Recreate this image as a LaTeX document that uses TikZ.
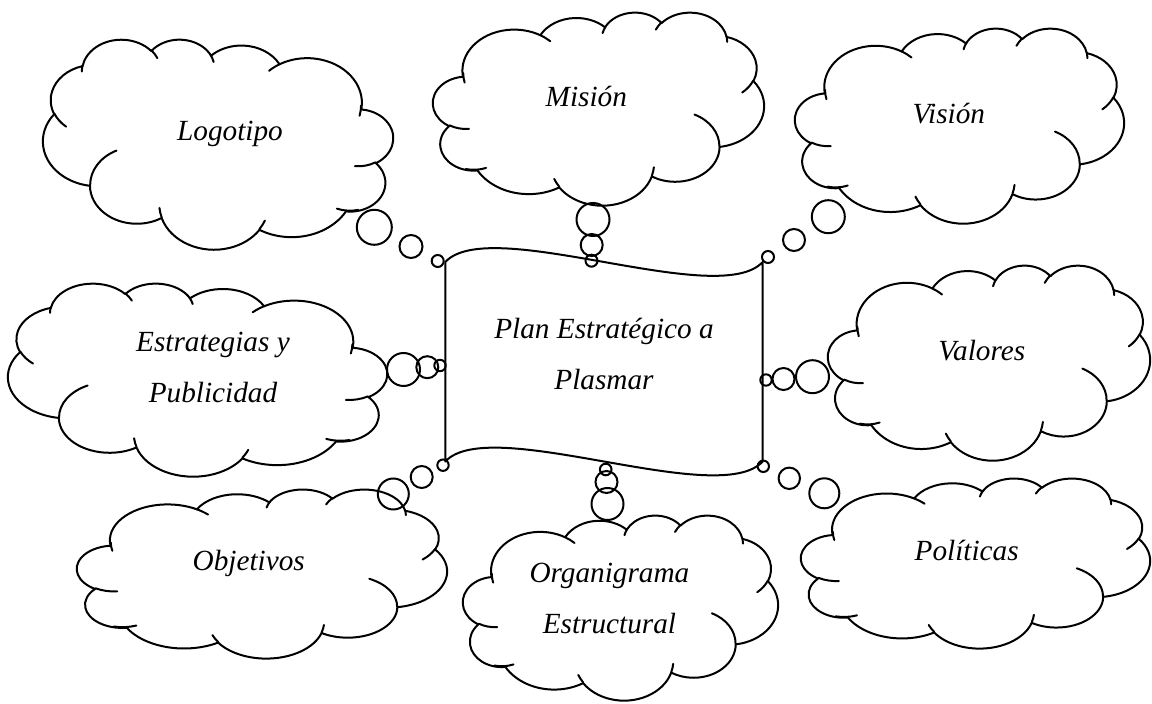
\documentclass[tikz,border=0pt]{standalone}
\usepackage{fontspec}
\setmainfont{Liberation Serif}
\tikzset{
 lobe/.style={draw=black,line width=.8pt,line cap=round,line join=round},
 banner/.style={draw=black,line width=.8pt,line join=round},
 bubble/.style={circle,draw=black,line width=.8pt,inner sep=0pt,minimum size=#1*0.8pt},
 thought/.style={font=\fontsize{11.7}{20.4}\selectfont\itshape,align=center,inner sep=0pt}
}
% visual angle of an ellipse turned into its parametric angle
\newcommand{\visang}[3]{atan2((#2)*sin(#1),(#3)*cos(#1))}
% cloud callout outline in a 43.2 x 43.2 box: left x, top y, width, height (px)
\newcommand{\thoughtcloud}[4]{%
 \begin{scope}[shift={(#1,#2)},xscale=#3/43.2,yscale=#4/43.2]
 \draw[lobe] (3.9,14.37)
  \foreach \ang/\swp/\rx/\ry in {-190.4875/123.7805/6.753/9.190,-144.1024/89.9452/5.333/7.267,
   -145.8079/99.7230/4.365/5.945,-130.9861/117.2417/4.857/6.595,-78.7089/109.0269/5.333/7.273,
   -46.2673/130.2690/6.775/9.220,0.6250/114.0333/5.785/7.867,22.4516/115.1726/6.752/9.215,
   66.2426/75.7110/7.720/10.543,-274.9421/146.7356/4.360/5.918,-246.8285/152.5189/4.345/5.945}{
   arc[start angle={\visang{\ang}{\rx}{\ry}},
    delta angle={\visang{\ang+\swp}{\rx}{\ry}-\visang{\ang}{\rx}{\ry}+360*round((\swp-\visang{\ang+\swp}{\rx}{\ry}+\visang{\ang}{\rx}{\ry})/360)},
    x radius=\rx,y radius=\ry]} -- cycle;
 \foreach \hx/\hy/\ang/\swp/\rx/\ry in {4.693/26.177/86.7420/26.4295/4.345/5.945,
   6.928/34.899/73.6105/26.5270/4.360/5.918,16.478/39.090/137.6242/14.0921/6.752/9.215,
   28.827/34.751/6.4533/15.9984/6.752/9.215,34.129/22.954/-70.2924/70.9174/5.785/7.867,
   41.798/15.354/30.3180/27.7515/5.333/7.273,38.324/5.426/-13.7443/14.8512/4.857/6.595,
   29.078/3.952/-149.1815/18.1959/4.857/6.595,22.141/4.720/-163.4943/17.6871/4.365/5.945,
   14.000/5.192/-66.7070/12.3194/6.753/9.190,4.127/15.789/162.0371/17.6844/6.753/9.190}{
  \draw[lobe] (\hx,\hy) arc[start angle={\visang{\ang}{\rx}{\ry}},
    delta angle={\visang{\ang+\swp}{\rx}{\ry}-\visang{\ang}{\rx}{\ry}+360*round((\swp-\visang{\ang+\swp}{\rx}{\ry}+\visang{\ang}{\rx}{\ry})/360)},
    x radius=\rx,y radius=\ry];}
 \end{scope}}

\begin{document}
\begin{tikzpicture}[x=.4pt,y=-.4pt]
 \useasboundingbox (0,0) rectangle (1152,704);
 % clouds (mirrored ones get a negative width)
 \thoughtcloud{393}{39}{-350}{210}
 \thoughtcloud{433}{12}{331}{193}
 \thoughtcloud{795}{28}{329}{195}
 \thoughtcloud{387}{283}{-379}{193}
 \thoughtcloud{828}{265}{322}{195}
 \thoughtcloud{77}{489}{370}{169}
 \thoughtcloud{463}{515}{315}{185}
 \thoughtcloud{801}{478}{349}{170}
 % central banner
 \coordinate (tl) at (445.3,262); \coordinate (tr) at (762.7,262);
 \coordinate (bl) at (445.3,461.5); \coordinate (br) at (762.7,461.5);
 \draw[banner] (tl) .. controls (489.7,214) and (718.3,310) .. (tr) -- (br)
  .. controls (718.3,509.5) and (489.7,413.5) .. (bl) -- cycle;
 \node[thought] (plan) at (604,353.7) {Plan Estratégico a\\Plasmar};
 % texts
 \node[thought] (logo) at (230,134) {Logotipo};
 \node[thought] (mision) at (586.3,96) {Misión};
 \node[thought] (vision) at (948.8,114) {Visión};
 \node[thought] (estrategias) at (213,367.5) {Estrategias y\\Publicidad};
 \node[thought] (valores) at (981.8,350.8) {Valores};
 \node[thought] (objetivos) at (248.7,563.8) {Objetivos};
 \node[thought] (organigrama) at (609.4,598.8) {Organigrama\\Estructural};
 \node[thought] (politicas) at (966.7,550.5) {Políticas};
 % bubbles
 \node[bubble=6] (lgA) at (437.7,261) {};
 \node[bubble=11.5] (lgB) at (411,246.5) {};
 \node[bubble=17.5] (lgC) at (374.3,227.3) {};
 \node[bubble=6] (miA) at (591.5,260.7) {};
 \node[bubble=11] (miB) at (591.7,245) {};
 \node[bubble=16.5] (miC) at (593,219.5) {};
 \node[bubble=6] (viA) at (768,257) {};
 \node[bubble=11] (viB) at (794,240) {};
 \node[bubble=16.5] (viC) at (828.3,216.7) {};
 \node[bubble=5.7] (esA) at (440,365.5) {};
 \node[bubble=11] (esB) at (427.3,367.2) {};
 \node[bubble=16.5] (esC) at (403.5,369.5) {};
 \node[bubble=5.7] (vaA) at (766,380) {};
 \node[bubble=11] (vaB) at (783.5,379) {};
 \node[bubble=16.5] (vaC) at (812.5,376.7) {};
 \node[bubble=5.7] (obA) at (443,465.2) {};
 \node[bubble=11] (obB) at (421.7,477) {};
 \node[bubble=15.5] (obC) at (393.3,494) {};
 \node[bubble=5.8] (orA) at (605.7,469.5) {};
 \node[bubble=11] (orB) at (606.5,482) {};
 \node[bubble=16] (orC) at (607.5,504) {};
 \node[bubble=5.7] (poA) at (763.3,466.3) {};
 \node[bubble=10.7] (poB) at (789.3,478.3) {};
 \node[bubble=15] (poC) at (824.3,493.3) {};
\end{tikzpicture}
\end{document}
